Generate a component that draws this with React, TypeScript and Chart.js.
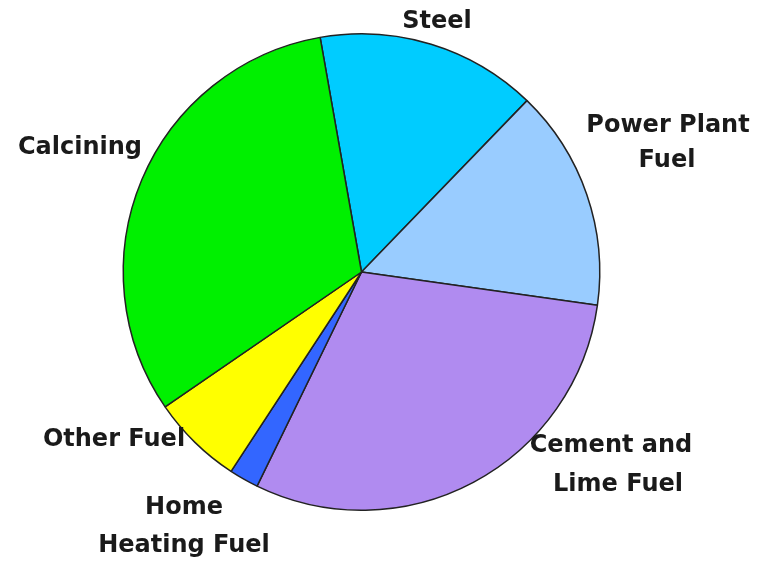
import React, { useEffect, useRef } from "react";
import { Chart, registerables } from "chart.js";

Chart.register(...registerables);

const categories = ["Steel", "Power Plant Fuel", "Cement and Lime Fuel", "Home Heating Fuel", "Other Fuel", "Calcining"];
const labelLines = [["Steel"], ["Power Plant", "Fuel"], ["Cement and", "Lime Fuel"], ["Home", "Heating Fuel"], ["Other Fuel"], ["Calcining"]];
const shares = [15, 15, 30, 2, 6.2, 31.8];
const colors = ["#00CCFF", "#99CCFF", "#B08BF0", "#3366FF", "#FFFF00", "#00F000"];

// layout of the outside labels (centre x, centre y per line)
const labelPos = [
  [[437, 22]],
  [[668, 126], [667, 161]],
  [[611, 446], [618, 485]],
  [[184, 508], [184, 546]],
  [[114, 440]],
  [[80, 148]],
];

const outsideLabels = {
  id: "outsideLabels",
  afterDraw(chart: any) {
    const ctx = chart.ctx;
    ctx.save();
    ctx.font = "bold 24px 'DejaVu Sans'";
    ctx.fillStyle = "#1a1a1a";
    ctx.textAlign = "center";
    ctx.textBaseline = "middle";
    labelLines.forEach((lines, i) => {
      lines.forEach((t, j) => {
        const p = labelPos[i][j];
        ctx.fillText(t, p[0], p[1]);
      });
    });
    ctx.restore();
  },
};

export default function App() {
  const ref = useRef<HTMLCanvasElement>(null);
  useEffect(() => {
    const chart = new Chart(ref.current!, {
      type: "pie",
      data: {
        labels: categories,
        datasets: [
          {
            data: shares,
            backgroundColor: colors,
            borderColor: "#222222",
            borderWidth: 1.5,
          },
        ],
      },
      options: {
        animation: false,
        responsive: false,
        rotation: -10,
        layout: { padding: { left: 122, right: 157, top: 33, bottom: 52 } },
        plugins: { legend: { display: false }, tooltip: { enabled: false } },
      },
      plugins: [outsideLabels],
    });
    return () => chart.destroy();
  }, []);
  return (
    <div style={{ position: "fixed", left: 0, top: 0, width: 758, height: 563, background: "#fff" }}>
      <canvas ref={ref} width={758} height={563} />
    </div>
  );
}
